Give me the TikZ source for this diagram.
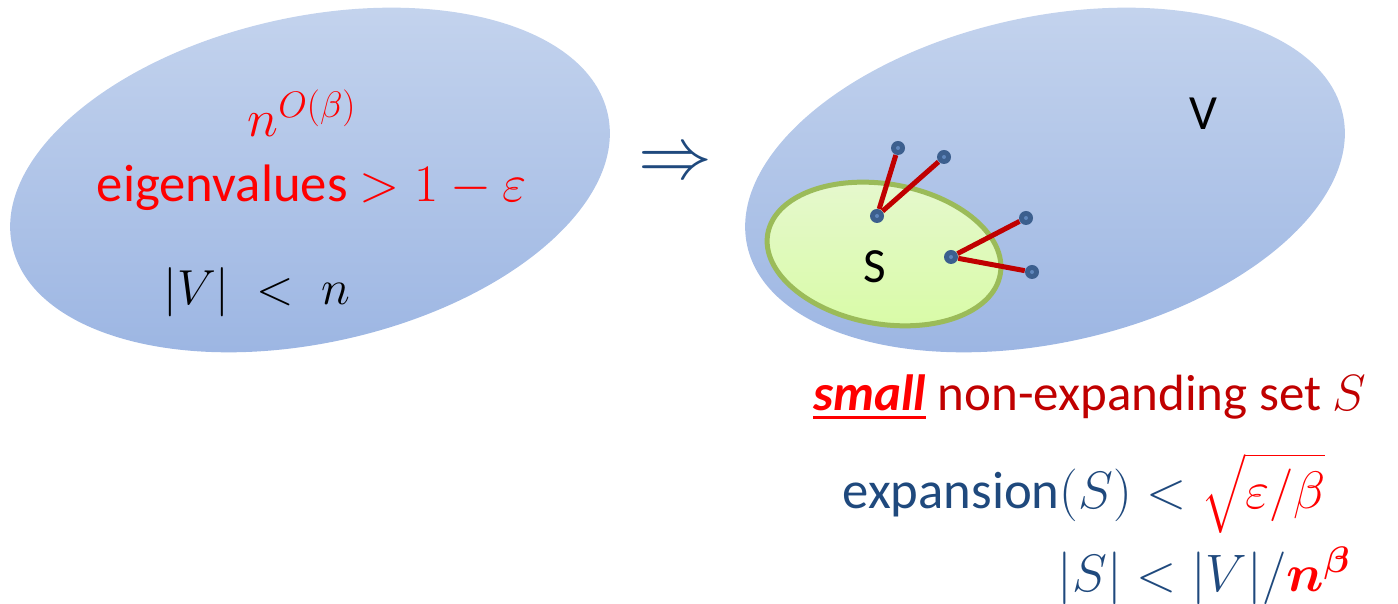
\RequirePackage{fix-cm}
\documentclass[tikz,border=0pt]{standalone}
\usepackage{amsmath}
\usepackage{fontspec}
\setmainfont{Carlito}
\usepackage{tikz}
\usetikzlibrary{positioning}
\definecolor{VTop}{HTML}{C6D5EE}
\definecolor{VBase}{HTML}{9AB4E2}
\definecolor{STop}{HTML}{E6F8CF}
\definecolor{SBase}{HTML}{D9FBA8}
\definecolor{SLine}{HTML}{9BBB59}
\definecolor{Edge}{HTML}{C00000}
\definecolor{Dot}{HTML}{3C5F8E}
\definecolor{DotHi}{HTML}{5F86BC}
\definecolor{Navy}{HTML}{1F497D}
\definecolor{DarkRed}{HTML}{C00000}
\newcommand{\txtsize}{\fontsize{30}{36}\selectfont}
\newcommand{\lblsize}{\fontsize{28}{32}\selectfont}
\newcommand{\thickul}[1]{\setbox0\hbox{#1}\rlap{\rule[-0.16em]{\wd0}{0.07em}}\box0}

\begin{document}
\begin{tikzpicture}[
  x=0.02cm, y=0.02cm,
  setfill/.style={top color=VTop,middle color=VBase,bottom color=VBase},
  subfill/.style={top color=STop,bottom color=SBase,draw=SLine,line width=0.1cm},
  vert/.style={circle,fill=Dot,inner sep=0pt,minimum size=0.28cm,
    path picture={\fill[DotHi] (path picture bounding box.center) circle (0.04cm);}},
  cut/.style={draw=Edge,line width=0.1cm},
  txt/.style={inner sep=0pt,anchor=base,font=\txtsize}
]
  \useasboundingbox (0,0) rectangle (1398,604);

  % the two vertex sets
  \shade[setfill,rotate around={12.5:(310,424)}] (310,424) ellipse (305 and 163);
  \shade[setfill,rotate around={12.5:(1045,424)}] (1045,424) ellipse (305 and 163);
  \shade[subfill,rotate around={-9.8:(884,350)}] (884,350) ellipse (118 and 70);

  % left set
  \node[txt,text=red] (many) at (302,467) {$n^{O(\beta)}$};
  \node[txt,text=red] (eig) at (312,402) {eigenvalues $>1-\varepsilon$};
  \node[txt,font=\fontsize{28}{32}\selectfont] (size) at (257,299) {$|V|\;<\;n$};

  \node[txt,text=Navy,font=\fontsize{42}{42}\selectfont] (impl) at (675,425) {$\Rightarrow$};

  % right set
  \node[txt,font=\lblsize] (vlab) at (1203,474) {V};
  \node[txt,font=\lblsize] (slab) at (875,321) {S};

  \node[vert] (a1) at (898,456) {};
  \node[vert] (a2) at (944,447) {};
  \node[vert] (a0) at (877,388) {};
  \node[vert] (b0) at (951,347) {};
  \node[vert] (b1) at (1026,386) {};
  \node[vert] (b2) at (1032,332) {};
  \draw[cut] (a0) -- (a1);
  \draw[cut] (a0) -- (a2);
  \draw[cut] (b0) -- (b1);
  \draw[cut] (b0) -- (b2);

  % conclusion
  \node[txt,text=DarkRed,font=\fontsize{29}{34}\selectfont] (small) at (1090,193)
    {\textcolor{red}{\thickul{\textbf{\textit{small}}}} non-expanding set $S$};
  \node[txt,text=Navy] (expn) at (1084,95)
    {expansion$(S)<\textcolor{red}{\sqrt{\varepsilon/\beta}}$};
  \node[txt,text=Navy] (card) at (1204,12)
    {$|S|<|V|/\textcolor{red}{\boldsymbol{n^{\beta}}}$};
\end{tikzpicture}
\end{document}
